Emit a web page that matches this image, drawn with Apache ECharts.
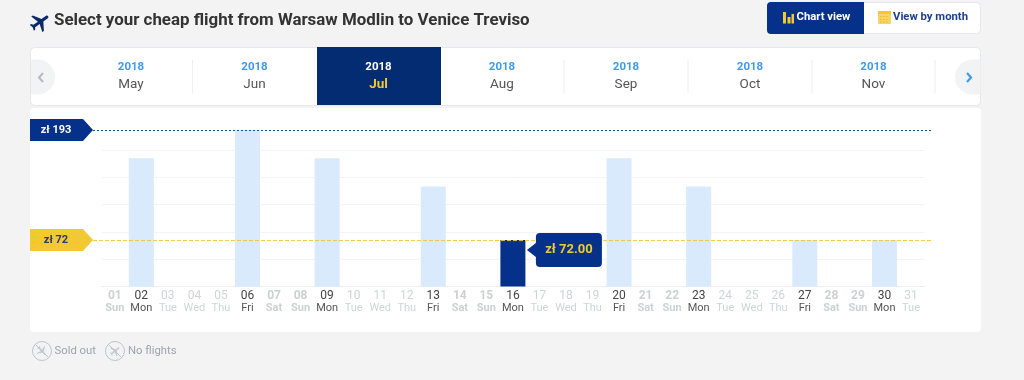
<!DOCTYPE html>
<html><head><meta charset="utf-8">
<style>html,body{margin:0;padding:0;background:#f3f3f3}#c{width:1024px;height:380px}</style>
<script src="https://cdn.jsdelivr.net/npm/echarts@6/dist/echarts.min.js"></script>
</head><body><div id="c"></div>
<script>
const days = ['01','02','03','04','05','06','07','08','09','10','11','12','13','14','15','16','17','18','19','20','21','22','23','24','25','26','27','28','29','30','31'];
const weekdays = ['Sun','Mon','Tue','Wed','Thu','Fri','Sat','Sun','Mon','Tue','Wed','Thu','Fri','Sat','Sun','Mon','Tue','Wed','Thu','Fri','Sat','Sun','Mon','Tue','Wed','Thu','Fri','Sat','Sun','Mon','Tue'];
const prices = [null,162,null,null,null,193,null,null,162,null,null,null,131,null,null,72,null,null,null,162,null,null,131,null,null,null,72,null,null,72,null];
const selectedDay = 15;
const selectedLabel = 'zł 72.00';
const refValues = [193, 72];
const refLabels = ['zł 193', 'zł 72'];
const months = ['May','Jun','Jul','Aug','Sep','Oct','Nov'];
const monthYear = '2018';
const selectedMonth = 2;
const titleText = 'Select your cheap flight from Warsaw Modlin to Venice Treviso';

const FONT = 'Roboto';
const NAVY = '#06318a', YEL = '#f2c933', BLUE = '#3d9be9', LIGHT = '#d9eafc';
const PLANE = 'M21 16v-2l-8-5V3.5c0-.83-.67-1.5-1.5-1.5S10 2.67 10 3.5V9l-8 5v2l8-2.5V19l-2 1.5V22l3.5-1 3.5 1v-1.5L13 19v-5.5l8 2.5z';
const monthX = [131,254.5,378.5,502,626,750,873.5];
const sepX = [192.5,564,688,812,935];

const g = [];
const decor = [];
// cards
g.push({type:'rect',z:0,shape:{x:30.5,y:47.5,width:950,height:58,r:4},style:{fill:'#fff',stroke:'#e4e7ec',lineWidth:1}});
g.push({type:'rect',z:0,shape:{x:30,y:108,width:951,height:224,r:4},style:{fill:'#fff'}});
// header
decor.push({type:'path',rotation:-0.95,originX:40,originY:22,shape:{pathData:PLANE,x:30,y:12,width:20,height:20},style:{fill:'#0b2a6b'}});
g.push({type:'text',z:2,x:54,y:21,style:{text:titleText,font:'bold 16.9px '+FONT,fill:'#333',textVerticalAlign:'middle'}});
// toggle
g.push({type:'rect',z:1,shape:{x:767.5,y:2.5,width:213,height:31,r:4},style:{fill:'#fff',stroke:'#e4e7ec'}});
g.push({type:'rect',z:2,shape:{x:767,y:2,width:97,height:32,r:[4,0,0,4]},style:{fill:NAVY}});
[[783,12,3,11.5],[787.5,17,3,6.5],[791.5,14,2.5,9.5]].forEach(b=>g.push({type:'rect',z:3,shape:{x:b[0],y:b[1],width:b[2],height:b[3]},style:{fill:YEL}}));
g.push({type:'text',z:3,x:796.5,y:17,style:{text:'Chart view',font:'bold 11.3px '+FONT,fill:'#fff',textVerticalAlign:'middle'}});
g.push({type:'rect',z:3,shape:{x:878,y:12,width:13,height:12,r:1},style:{fill:'#f6d565'}});
g.push({type:'rect',z:3,shape:{x:878,y:11,width:13,height:3},style:{fill:YEL}});
[16.5,19.5,22].forEach(y=>g.push({type:'line',z:4,shape:{x1:880,y1:y,x2:889,y2:y},style:{stroke:'#e8bb2a',lineWidth:1,lineDash:[1.5,1.5]}}));
g.push({type:'text',z:3,x:893,y:17,style:{text:'View by month',font:'bold 11.3px '+FONT,fill:'#1c3f8f',textVerticalAlign:'middle'}});
// month nav
g.push({type:'rect',z:2,shape:{x:317,y:47,width:124,height:58},style:{fill:'#042c72'}});
months.forEach((m,i)=>{
  const sel = i===selectedMonth;
  g.push({type:'text',z:3,x:monthX[i],y:67.5,style:{text:monthYear,font:'bold 11.5px '+FONT,fill:sel?'#fff':BLUE,textAlign:'center',textVerticalAlign:'middle'}});
  g.push({type:'text',z:3,x:monthX[i],y:85,style:{text:m,font:(sel?'bold ':'')+'13.5px '+FONT,fill:sel?YEL:'#555',textAlign:'center',textVerticalAlign:'middle'}});
});
sepX.forEach(x=>g.push({type:'line',z:2,shape:{x1:x,y1:60,x2:x,y2:93},style:{stroke:'#eceef1',lineWidth:1}}));
decor.push({type:'path',shape:{pathData:'M31 59.5H37.5A17.5 17.5 0 0 1 37.5 94.5H31Z'},style:{fill:'#f2f3f5'}});
decor.push({type:'path',shape:{pathData:'M980.5 59.5H972.5A17.5 17.5 0 0 0 972.5 94.5H980.5Z'},style:{fill:'#f2f3f5'}});
decor.push({type:'polyline',shape:{points:[[43,73],[39,77.5],[43,82]]},style:{stroke:'#b3b8c2',lineWidth:2,fill:null}});
decor.push({type:'polyline',shape:{points:[[967,73],[971,77.5],[967,82]]},style:{stroke:BLUE,lineWidth:2.2,fill:null}});
// legend
[[42,'Sold out',54.5],[115,'No flights',128]].forEach((l,i)=>{
  g.push({type:'circle',z:2,shape:{cx:l[0],cy:351,r:9.5},style:{fill:null,stroke:'#c0c3ca',lineWidth:1}});
  g.push({type:'line',z:2,shape:{x1:l[0]-6.5,y1:344.5,x2:l[0]+6.5,y2:357.5},style:{stroke:'#c0c3ca',lineWidth:1}});
  decor.push({type:'path',rotation:i?-0.9:-2.4,originX:l[0],originY:351,shape:{pathData:PLANE,x:l[0]-5.5,y:345.5,width:11,height:11},style:{fill:'#c8cbd1'}});
  g.push({type:'text',z:2,x:l[2],y:351.5,style:{text:l[1],font:'11.3px '+FONT,fill:'#9ea3ad',textVerticalAlign:'middle'}});
});

const TOP=130, BOTTOM=380-286.5, YMIN=21;
const chart = echarts.init(document.getElementById('c'),null,{renderer:'canvas'});
chart.setOption({
  animation:false,
  backgroundColor:'#f3f3f3',
  textStyle:{fontFamily:FONT},
  graphic:g,
  grid:[
    {left:101.5,right:1024-924.3,top:TOP,bottom:BOTTOM,z:5},
    {left:93,right:93,top:TOP+0.5,bottom:BOTTOM-0.5,z:5}
  ],
  xAxis:[
    {type:'category',gridIndex:0,data:days,boundaryGap:true,
     axisLine:{lineStyle:{color:'#eceef1'}},axisTick:{show:false},
     axisLabel:{interval:0,margin:2,
       formatter:(v,i)=>{
         const on = prices[i]!=null, we = weekdays[i]==='Sat'||weekdays[i]==='Sun';
         const k = on?'a':(we?'w':'o');
         return '{'+k+'1|'+v+'}\n{'+k+'2|'+weekdays[i]+'}';
       },
       rich:{
         a1:{fontSize:12,color:'#444',lineHeight:14,fontFamily:FONT},
         a2:{fontSize:11,color:'#555',lineHeight:12,fontFamily:FONT},
         o1:{fontSize:12,color:'#d0d3d9',lineHeight:14,fontFamily:FONT},
         o2:{fontSize:11,color:'#d0d3d9',lineHeight:12,fontFamily:FONT},
         w1:{fontSize:12,color:'#cdd0d5',fontWeight:'bold',lineHeight:14,fontFamily:FONT},
         w2:{fontSize:11,color:'#cdd0d5',fontWeight:'bold',lineHeight:12,fontFamily:FONT}
       }}},
    {type:'value',gridIndex:1,min:0,max:1,show:false}
  ],
  yAxis:[
    {type:'value',gridIndex:0,min:YMIN,max:refValues[0],interval:30,
     axisLine:{show:false},axisTick:{show:false},axisLabel:{show:false},
     splitLine:{show:true,showMaxLine:false,showMinLine:false,lineStyle:{color:'#f3f4f6'}}},
    {type:'value',gridIndex:1,min:YMIN,max:refValues[0],show:false}
  ],
  series:[
    {type:'custom',coordinateSystem:'none',z:1,silent:true,data:[0],
     renderItem:()=>({type:'group',children:decor})},
    {type:'bar',xAxisIndex:0,yAxisIndex:0,barWidth:25,z:2,silent:true,
     data:prices.map((p,i)=>({value:p,itemStyle:{color:i===selectedDay?NAVY:LIGHT}}))},
    {type:'line',xAxisIndex:1,yAxisIndex:1,z:3,symbol:'none',silent:true,
     data:[[0,refValues[0]],[1,refValues[0]]],lineStyle:{color:'#1f4ba8',width:1,type:[2,2]}},
    {type:'line',xAxisIndex:1,yAxisIndex:1,z:3,symbol:'none',silent:true,
     data:[[0,refValues[1]],[1,refValues[1]]],lineStyle:{color:YEL,width:1,type:[4,2]}},
    {type:'custom',xAxisIndex:1,yAxisIndex:1,z:4,silent:true,
     data:refValues.map((v,i)=>[0,v,i]),
     renderItem:(p,api)=>{
       const c=api.coord([0,api.value(1)]), i=api.value(2), x=c[0], y=Math.floor(c[1]);
       return {type:'group',children:[
         {type:'polygon',shape:{points:[[x-63,y-11],[x-10,y-11],[x,y],[x-10,y+11],[x-63,y+11]]},style:{fill:i?YEL:NAVY}},
         {type:'text',x:x-37,y:y,style:{text:refLabels[i],font:'bold 11px '+FONT,fill:i?'#2b3a67':'#fff',textAlign:'center',textVerticalAlign:'middle'}}
       ]};
     }},
    {type:'custom',xAxisIndex:0,yAxisIndex:0,z:6,silent:true,
     data:[[selectedDay,prices[selectedDay]]],
     renderItem:(p,api)=>{
       const c=api.coord([api.value(0),api.value(1)]), x=c[0], y=c[1];
       return {type:'group',children:[
         {type:'path',shape:{pathData:`M${x+14} ${y+10}L${x+23} ${y+3}V${y-3}a4 4 0 0 1 4 -4H${x+85}a4 4 0 0 1 4 4V${y+23}a4 4 0 0 1 -4 4H${x+27}a4 4 0 0 1 -4 -4V${y+17}Z`},style:{fill:NAVY}},
         {type:'text',x:x+56,y:y+10,style:{text:selectedLabel,font:'bold 13px '+FONT,fill:YEL,textAlign:'center',textVerticalAlign:'middle'}}
       ]};
     }}
  ]
});
</script></body></html>
